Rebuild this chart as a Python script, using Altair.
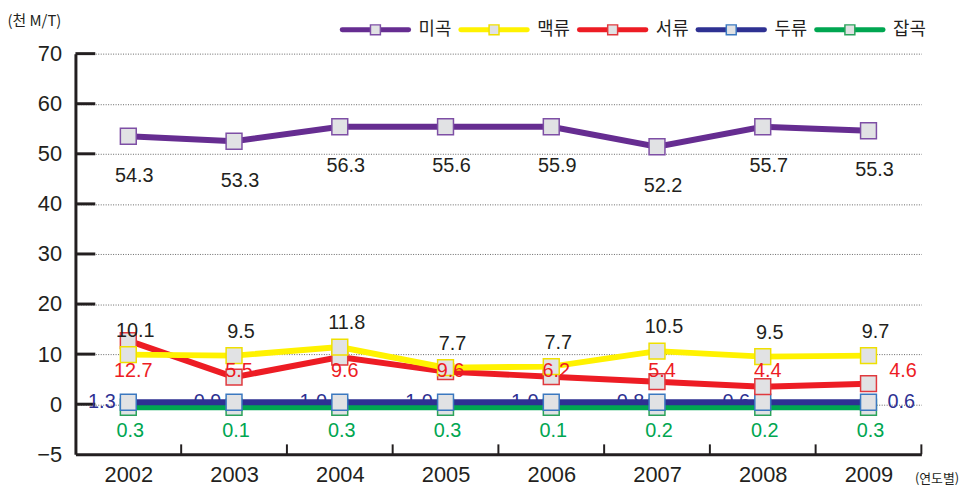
import altair as alt
import pandas as pd

# ---------------- data ----------------
YEARS = [2002, 2003, 2004, 2005, 2006, 2007, 2008, 2009]
SERIES = ["미곡", "맥류", "서류", "두류", "잡곡"]

# plotted positions (천 M/T)
RICE = [53.5, 52.5, 55.4, 55.4, 55.4, 51.4, 55.4, 54.6]
BARLEY = [9.9, 9.7, 11.4, 7.3, 7.5, 10.6, 9.5, 9.7]
TUBER = [12.7, 5.4, 9.4, 6.5, 5.5, 4.5, 3.5, 4.1]
BEAN = [0.4, 0.4, 0.4, 0.4, 0.4, 0.4, 0.4, 0.4]
MISC = [-0.6, -0.6, -0.6, -0.6, -0.6, -0.6, -0.6, -0.6]

# printed value labels
RICE_LABELS = ["54.3", "53.3", "56.3", "55.6", "55.9", "52.2", "55.7", "55.3"]
BARLEY_LABELS = ["10.1", "9.5", "11.8", "7.7", "7.7", "10.5", "9.5", "9.7"]
TUBER_LABELS = ["12.7", "5.5", "9.6", "9.6", "6.2", "5.4", "4.4", "4.6"]
BEAN_LABELS = ["1.3", "0.9", "1.0", "1.0", "1.0", "0.8", "0.6", "0.6"]
MISC_LABELS = ["0.3", "0.1", "0.3", "0.3", "0.1", "0.2", "0.2", "0.3"]

Y_TICKS = [-10, 0, 10, 20, 30, 40, 50, 60, 70]
Y_INNER_TICKS = [0, 10, 20, 30, 40, 50, 60, 70]
X_BOUNDS = [2002.5, 2003.5, 2004.5, 2005.5, 2006.5, 2007.5, 2008.5, 2009.5]

# ---------------- styles ----------------
INK = "#231f20"
NUM_FONT = "Liberation Sans"
KR_FONT = "Noto Sans CJK KR"
SQUARE_FILL = "#e1e2e4"

STYLE = {
    "미곡": dict(line="#662d91", edge="#7e4fa5", text=INK),
    "맥류": dict(line="#fff200", edge="#efe000", text=INK),
    "서류": dict(line="#ed1c24", edge="#e0393e", text="#ed1c24"),
    "두류": dict(line="#2e3192", edge="#3b78c0", text="#2e3192"),
    "잡곡": dict(line="#00a651", edge="#2aa35a", text="#00a651"),
}

VALUES = {"미곡": RICE, "맥류": BARLEY, "서류": TUBER, "두류": BEAN, "잡곡": MISC}
LABELS = {"미곡": RICE_LABELS, "맥류": BARLEY_LABELS, "서류": TUBER_LABELS,
          "두류": BEAN_LABELS, "잡곡": MISC_LABELS}

W, H = 853, 404

X_SCALE = alt.Scale(domain=[2001.5, 2009.5], nice=False, zero=False)
Y_SCALE = alt.Scale(domain=[-10, 70], nice=False, zero=False)

X_AXIS = alt.Axis(
    values=YEARS, format="d", ticks=False, grid=False,
    domainWidth=3, domainColor=INK,
    labelFontSize=22, labelFont=NUM_FONT, labelColor=INK, labelPadding=10,
    title="(연도별)", titleX=846, titleY=24, titleAlign="left",
    titleBaseline="middle", titleFontSize=13, titleFont=KR_FONT,
    titleFontWeight="normal", titleColor=INK,
)
Y_AXIS = alt.Axis(
    values=Y_TICKS, ticks=False, grid=True,
    gridDash=[1, 1.5], gridColor="#666666", gridWidth=1,
    domainWidth=3, domainColor=INK,
    labelFontSize=22, labelFont=NUM_FONT, labelColor=INK, labelPadding=14,
    labelExpr="datum.value == -10 ? '\u22125' : datum.label",
    title="(천 M/T)", titleAngle=0, titleX=-69, titleY=-33, titleAlign="left",
    titleBaseline="middle", titleFontSize=15, titleFont=KR_FONT,
    titleFontWeight="normal", titleColor=INK,
)


def X(field):
    return alt.X(f"{field}:Q", scale=X_SCALE, axis=X_AXIS)


def Y(field):
    return alt.Y(f"{field}:Q", scale=Y_SCALE, axis=Y_AXIS)


def series_df(name):
    return pd.DataFrame({"year": YEARS, "value": VALUES[name], "label": LABELS[name]})


layers = []

# inward ticks
ytick_df = pd.DataFrame({"value": Y_INNER_TICKS})
layers.append(
    alt.Chart(ytick_df).mark_rule(color=INK, strokeWidth=3).encode(
        y=Y("value"), x=alt.value(0), x2=alt.value(20)
    )
)
xtick_df = pd.DataFrame({"year": X_BOUNDS})
layers.append(
    alt.Chart(xtick_df).mark_rule(color=INK, strokeWidth=2).encode(
        x=X("year"), y=alt.value(H), y2=alt.value(H - 10)
    )
)

# value labels that sit beneath the thin lines
LABEL_FONT = dict(font=NUM_FONT, fontSize=20, baseline="middle", align="center")

layers.append(
    alt.Chart(series_df("두류"))
    .transform_calculate(lx="datum.year == 2009 ? datum.year + 0.31 : datum.year - 0.25")
    .mark_text(color=STYLE["두류"]["text"], **LABEL_FONT)
    .encode(x=X("lx"), y=Y("value"), text="label:N")
)

# lines and squares (bottom to top)
draw_order = ["잡곡", "두류", "서류", "맥류", "미곡"]
for name in draw_order:
    st = STYLE[name]
    df = series_df(name)
    layers.append(
        alt.Chart(df).mark_line(color=st["line"], strokeWidth=6).encode(
            x=X("year"), y=Y("value")
        )
    )
    layers.append(
        alt.Chart(df).mark_square(
            size=256, filled=True, fill=SQUARE_FILL, stroke=st["edge"],
            strokeWidth=1.5, opacity=1
        ).encode(x=X("year"), y=Y("value"))
    )

layers.append(
    alt.Chart(series_df("미곡")).mark_text(dx=6, dy=40, color=STYLE["미곡"]["text"], **LABEL_FONT)
    .encode(x=X("year"), y=Y("value"), text="label:N")
)
layers.append(
    alt.Chart(series_df("맥류")).mark_text(dx=7, dy=-24, color=STYLE["맥류"]["text"], **LABEL_FONT)
    .encode(x=X("year"), y=Y("value"), text="label:N")
)
layers.append(
    alt.Chart(series_df("서류"))
    .transform_calculate(lx="datum.year == 2009 ? datum.year + 0.28 : datum.year", ly="6.6")
    .mark_text(dx=5, color=STYLE["서류"]["text"], **LABEL_FONT)
    .encode(x=X("lx"), y=Y("ly"), text="label:N")
)
layers.append(
    alt.Chart(series_df("잡곡")).mark_text(dx=2, dy=24, color=STYLE["잡곡"]["text"], **LABEL_FONT)
    .encode(x=X("year"), y=Y("value"), text="label:N")
)

# legend (top right, above plot)
LEG_X0, LEG_STEP, LEG_LEN, LEG_Y = 269, 119.6, 67, -24
one = pd.DataFrame({"k": [0]})
for i, name in enumerate(SERIES):
    st = STYLE[name]
    x0 = LEG_X0 + i * LEG_STEP
    layers.append(
        alt.Chart(one).mark_rule(color=st["line"], strokeWidth=5, strokeCap="round").encode(
            x=alt.value(x0), x2=alt.value(x0 + LEG_LEN), y=alt.value(LEG_Y)
        )
    )
    layers.append(
        alt.Chart(one).mark_square(
            size=100, filled=True, fill=SQUARE_FILL, stroke=st["edge"], strokeWidth=1.5, opacity=1
        ).encode(x=alt.value(x0 + LEG_LEN / 2), y=alt.value(LEG_Y))
    )
    layers.append(
        alt.Chart(one).mark_text(
            text=name, font=KR_FONT, fontSize=18, color=INK, align="left", baseline="middle"
        ).encode(x=alt.value(x0 + LEG_LEN + 10), y=alt.value(LEG_Y))
    )

chart = (
    alt.layer(*layers)
    .properties(
        width=W, height=H,
        autosize=alt.AutoSizeParams(type="none"),
        padding={"left": 68, "top": 44, "right": 44, "bottom": 35},
        background="white",
    )
    .configure_view(stroke=None)
)

chart.save("out.html", embed_options={"renderer": "svg", "actions": False})
